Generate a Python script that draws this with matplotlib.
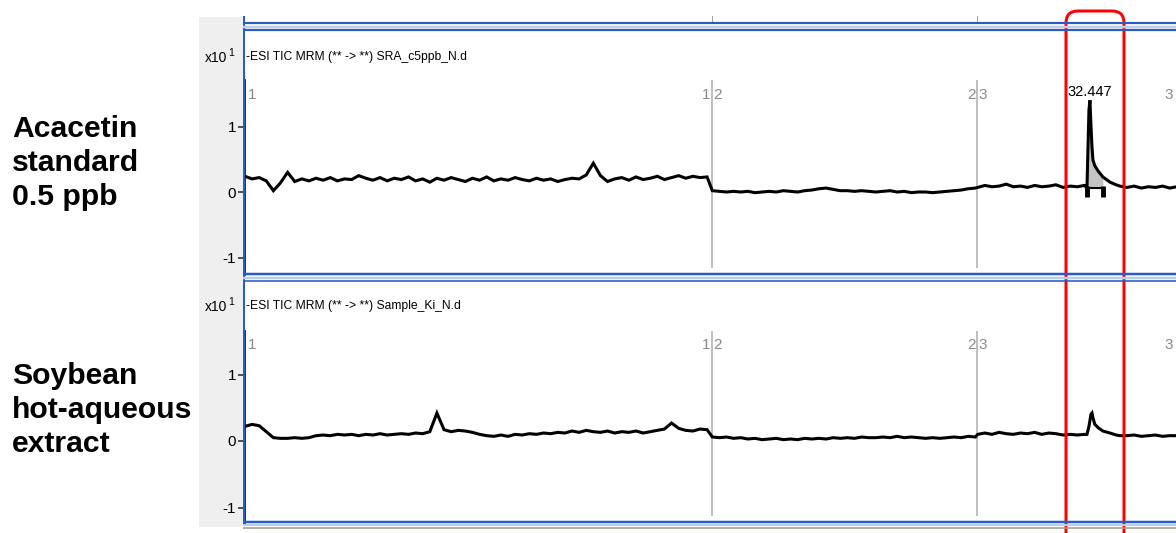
import numpy as np
import matplotlib
matplotlib.use("Agg")
import matplotlib.pyplot as plt
from matplotlib.patches import FancyBboxPatch, Rectangle

# ---------------- data ----------------
sample_names = ["Acacetin\nstandard\n0.5 ppb", "Soybean\nhot-aqueous\nextract"]
trace_titles = ["-ESI TIC MRM (** -> **) SRA_c5ppb_N.d",
                "-ESI TIC MRM (** -> **) Sample_Ki_N.d"]
y_ticks = [-1, 0, 1]
y_tick_labels = ["-1", "0", "1"]
segment_bounds = [24.47, 30.06]          # acquisition segment boundaries (min)
segment_pairs = [("1", "2"), ("2", "3")]
peak_rt = 32.447
peak_label = "32.447"
step = 0.15

# --- standard (panel 1), values in x10^1 counts ---
std_seg1 = [0.24, 0.20, 0.22, 0.17, 0.02, 0.14, 0.30, 0.16, 0.20, 0.17,
            0.21, 0.18, 0.22, 0.17, 0.20, 0.19, 0.25, 0.21, 0.18, 0.22,
            0.17, 0.21, 0.19, 0.23, 0.17, 0.20, 0.15, 0.21, 0.18, 0.22,
            0.19, 0.16, 0.21, 0.18, 0.23, 0.17, 0.20, 0.18, 0.22, 0.19,
            0.17, 0.21, 0.18, 0.20, 0.16, 0.19, 0.21, 0.20, 0.26, 0.44,
            0.25, 0.16, 0.20, 0.22, 0.18, 0.23, 0.19, 0.21, 0.24, 0.19,
            0.22, 0.25, 0.21, 0.24, 0.22, 0.23]
std_seg2 = [0.02, 0.01, 0.00, 0.01, 0.00, 0.01, -0.01, 0.00, 0.01, 0.00,
            0.02, 0.01, 0.00, 0.02, 0.03, 0.05, 0.06, 0.04, 0.02, 0.02,
            0.01, 0.02, 0.01, 0.00, 0.01, 0.02, 0.00, 0.01, -0.01, 0.00,
            0.00, -0.01, 0.00, 0.01, 0.02, 0.03, 0.05, 0.06]
std_seg3a = [0.07, 0.10, 0.08, 0.09, 0.12, 0.08, 0.09, 0.07, 0.10, 0.08,
             0.09, 0.11, 0.07, 0.09, 0.08, 0.10]
std_peak_t = [32.384, 32.405, 32.426, 32.447, 32.468, 32.490, 32.510,
              32.550, 32.620, 32.720, 32.870, 33.000, 33.080]
std_peak_y = [0.06, 0.64, 1.25, 1.40, 1.02, 0.69, 0.49,
              0.40, 0.32, 0.23, 0.15, 0.11, 0.09]
std_seg3b = [0.07, 0.09, 0.06, 0.08, 0.07, 0.09, 0.06, 0.08]

# --- soybean extract (panel 2) ---
soy_seg1 = [0.22, 0.25, 0.23, 0.14, 0.05, 0.04, 0.04, 0.05, 0.04, 0.05,
            0.08, 0.09, 0.08, 0.10, 0.09, 0.10, 0.08, 0.10, 0.09, 0.11,
            0.09, 0.10, 0.11, 0.10, 0.12, 0.11, 0.14, 0.42, 0.17, 0.14,
            0.16, 0.15, 0.13, 0.10, 0.08, 0.07, 0.09, 0.07, 0.10, 0.09,
            0.11, 0.10, 0.12, 0.11, 0.13, 0.12, 0.15, 0.13, 0.16, 0.14,
            0.13, 0.15, 0.12, 0.14, 0.13, 0.15, 0.12, 0.14, 0.16, 0.18,
            0.27, 0.19, 0.16, 0.15, 0.18, 0.17]
soy_seg2 = [0.06, 0.05, 0.06, 0.04, 0.05, 0.03, 0.04, 0.02, 0.03, 0.04,
            0.02, 0.03, 0.02, 0.04, 0.03, 0.04, 0.03, 0.05, 0.04, 0.05,
            0.04, 0.06, 0.05, 0.05, 0.06, 0.05, 0.07, 0.05, 0.06, 0.05,
            0.04, 0.05, 0.04, 0.05, 0.06, 0.05, 0.07, 0.06]
soy_seg3a = [0.10, 0.12, 0.10, 0.13, 0.11, 0.10, 0.12, 0.11, 0.13, 0.10,
             0.12, 0.11, 0.09, 0.10, 0.09, 0.10]
soy_peak_t = [32.384, 32.426, 32.468, 32.490, 32.510, 32.550, 32.620,
              32.720, 32.870, 33.000, 33.080]
soy_peak_y = [0.10, 0.22, 0.40, 0.42, 0.35, 0.25, 0.20,
              0.15, 0.12, 0.09, 0.08]
soy_seg3b = [0.08, 0.09, 0.07, 0.08, 0.09, 0.07, 0.08, 0.08]

seg_starts = [14.62, 24.48, 30.08, 33.23]
integ_start, integ_end, integ_base = 32.384, 32.720, 0.06

# ---------------- figure ----------------
W, H = 1176, 533
fig = plt.figure(figsize=(W / 100, H / 100), dpi=100)
fig.patch.set_facecolor("white")

NARROW = ["Liberation Sans Narrow", "Liberation Sans", "DejaVu Sans"]
BLUE = "#2a5cc8"
LIGHTBLUE = "#b9cdf0"

# x mapping (px 244 -> 14.6 min, 47.4 px per min)
X0_PX, PX_PER_MIN, T0 = 244, 47.4, 14.6
xlim = (T0, T0 + (W - X0_PX) / PX_PER_MIN)


def fx(px):
    return px / W


def fy(py):
    return 1 - py / H


# background axes for the gray strip
bg = fig.add_axes([0, 0, 1, 1], zorder=0)
bg.set_xlim(0, W)
bg.set_ylim(H, 0)
bg.axis("off")
bg.add_patch(Rectangle((199, 17), 44, 510, color="#efefef", lw=0))

# overlay: frame lines, titles and red highlight box
ov = fig.add_axes([0, 0, 1, 1], zorder=3)
ov.set_xlim(0, W)
ov.set_ylim(H, 0)
ov.axis("off")


def build_trace(s1, s2, s3a, pt, py, s3b):
    t = np.concatenate([
        seg_starts[0] + step * np.arange(len(s1)),
        seg_starts[1] + step * np.arange(len(s2)),
        seg_starts[2] + step * np.arange(len(s3a)),
        np.array(pt),
        seg_starts[3] + step * np.arange(len(s3b)),
    ])
    y = np.concatenate([s1, s2, s3a, py, s3b])
    return t, y


panels = [
    dict(top=30, bottom=274, zero=192, unit=65.5,
         data=(std_seg1, std_seg2, std_seg3a, std_peak_t, std_peak_y, std_seg3b),
         pk=(std_peak_t, std_peak_y), label_y=163, title_y=57, seg_label_y=95,
         annotate=True),
    dict(top=281, bottom=522, zero=441, unit=66.5,
         data=(soy_seg1, soy_seg2, soy_seg3a, soy_peak_t, soy_peak_y, soy_seg3b),
         pk=(soy_peak_t, soy_peak_y), label_y=410, title_y=306, seg_label_y=345,
         annotate=False),
]

for i, p in enumerate(panels):
    ax = fig.add_axes([fx(X0_PX), fy(p["bottom"]), (W - X0_PX) / W,
                       (p["bottom"] - p["top"]) / H], zorder=1)
    ylo = (p["zero"] - p["bottom"]) / p["unit"]
    yhi = (p["zero"] - p["top"]) / p["unit"]
    ax.set_xlim(*xlim)
    ax.set_ylim(ylo, yhi)
    ax.set_facecolor("white")
    for s in ["top", "right", "bottom"]:
        ax.spines[s].set_visible(False)
    ytop_axis = (p["zero"] - 80 - (p["top"] - 30)) / p["unit"]
    ax.spines["left"].set_bounds(ylo, ytop_axis)
    ax.spines["left"].set_color("#141a4a")
    ax.spines["left"].set_linewidth(2.0)
    ax.set_xticks([])
    ax.set_yticks(y_ticks)
    ax.set_yticklabels(y_tick_labels, family=NARROW, fontsize=11)
    ax.tick_params(axis="y", direction="out", length=4, width=1.2,
                   color="#333333", pad=1.5)

    # segment boundary lines and labels
    y_line_lo = (p["zero"] - (p["bottom"] - 6)) / p["unit"]
    ly = (p["zero"] - p["seg_label_y"]) / p["unit"]
    for tb, (l, r) in zip(segment_bounds, segment_pairs):
        ax.vlines(tb, y_line_lo, ytop_axis, color="#b4b4b4", lw=1.2, zorder=1)
        ax.text(tb - 0.03, ly, l, ha="right", va="center", color="#8a8a8a",
                family=NARROW, fontsize=11)
        ax.text(tb + 0.04, ly, r, ha="left", va="center", color="#8a8a8a",
                family=NARROW, fontsize=11)
    ax.text(T0 + 0.09, ly, "1", ha="left", va="center", color="#8a8a8a",
            family=NARROW, fontsize=11)
    ax.text(xlim[1] - 0.06, ly, "3", ha="right", va="center", color="#8a8a8a",
            family=NARROW, fontsize=11, clip_on=False)

    t, y = build_trace(*p["data"])
    ax.plot(t, y, color="black", lw=2.2, zorder=3, solid_joinstyle="miter")

    if p["annotate"]:
        pt, py = np.array(p["pk"][0]), np.array(p["pk"][1])
        m = (pt >= integ_start) & (pt <= integ_end)
        ax.fill_between(pt[m], integ_base, py[m], color="#c4c4c4", lw=0, zorder=2)
        ax.plot([integ_start, integ_end], [integ_base, integ_base],
                color="black", lw=1.5, zorder=3)
        ax.vlines([integ_start, integ_end], -0.08, 0.09, color="black",
                  lw=3.5, zorder=4)
        ax.text(peak_rt, (p["zero"] - 92) / p["unit"], peak_label, ha="center",
                va="center", family=NARROW, fontsize=10.5, color="black")

    # title and multiplier in pixel coords
    ov.text(246, p["title_y"], trace_titles[i], ha="left", va="center",
            family=NARROW, fontsize=8.7, color="black")
    ov.text(205, p["title_y"] + 1, "x10", ha="left", va="center",
            family=NARROW, fontsize=10, color="black")
    ov.text(228, p["title_y"] - 4, "1", ha="left", va="center",
            family=NARROW, fontsize=7.5, color="black")

    # sample name
    bg.text(12, p["label_y"], sample_names[i], ha="left", va="center",
            family=["Liberation Sans", "DejaVu Sans"], fontweight="bold",
            fontsize=21.7, linespacing=1.29, color="black")

pxw = 0.72  # points per pixel
ov.plot([243.5, 243.5], [17, 524], color=BLUE, lw=2 * pxw)
for yy, c, w in [(23, BLUE, 2.2), (26.5, LIGHTBLUE, 2.5), (30, BLUE, 2.2),
                 (274, BLUE, 2.5), (277.5, LIGHTBLUE, 2.5), (281, BLUE, 1.6),
                 (522, BLUE, 2.5), (525, LIGHTBLUE, 2.0), (527.5, "#a39d92", 1.6)]:
    ov.plot([243, W], [yy, yy], color=c, lw=w * pxw, solid_capstyle="butt")
for tb in segment_bounds:
    xb = X0_PX + (tb - T0) * PX_PER_MIN
    ov.plot([xb, xb], [16, 20.5], color="#a0a0a0", lw=1.0 * pxw)

ov.add_patch(FancyBboxPatch((1066, 11), 58, 560,
                            boxstyle="round,pad=0,rounding_size=12",
                            fill=False, ec="#ff0000", lw=3 * pxw))

fig.savefig("out.png", dpi=100)
